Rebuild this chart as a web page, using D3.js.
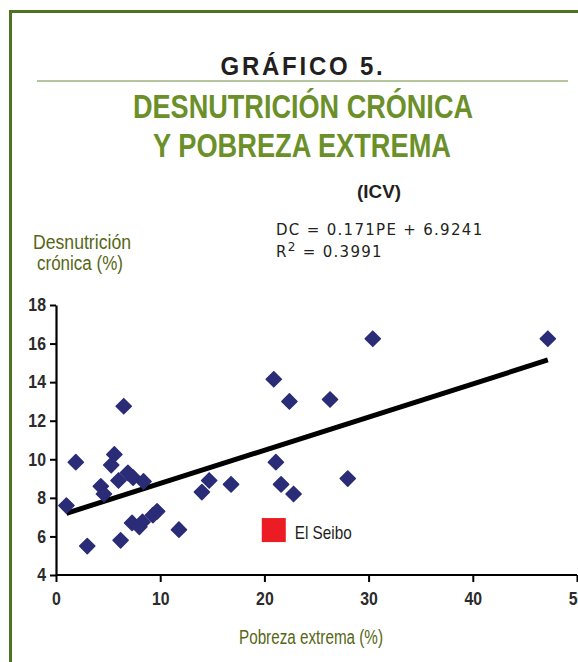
<!DOCTYPE html>
<html><head><meta charset="utf-8">
<script src="https://cdn.jsdelivr.net/npm/d3@7"></script>
<style>
body{margin:0;background:#fff;}
svg{display:block;}
.cond{font-family:"Liberation Sans","Arial",sans-serif;}
</style></head>
<body>
<svg id="chart" width="578" height="662"></svg>
<script>
// ---- data ----
const povertyPE = [1.0, 1.9, 3.0, 4.3, 4.6, 5.3, 5.6, 6.0, 6.2, 6.5, 6.9, 7.4, 7.3, 8.0, 8.3, 8.4, 9.3, 9.7, 11.8, 14.0, 14.7, 16.8, 20.9, 21.1, 21.6, 22.4, 22.8, 26.3, 28.0, 30.4, 47.2];
const malnutritionDC = [7.6, 9.85, 5.5, 8.6, 8.2, 9.7, 10.25, 8.9, 5.8, 12.75, 9.3, 9.05, 6.7, 6.5, 6.75, 8.85, 7.1, 7.3, 6.35, 8.3, 8.9, 8.7, 14.15, 9.85, 8.7, 13.0, 8.2, 13.1, 9.0, 16.25, 16.25];
const highlightName = ["El Seibo"];
const highlightPE = [20.9];
const highlightDC = [6.33];
const trendPE = [1.0, 47.2];
const trendDC = [7.2, 15.15];
const xTicks = [0, 10, 20, 30, 40, 50];
const yTicks = [4, 6, 8, 10, 12, 14, 16, 18];

const svg = d3.select("#chart");
const green = "#4e7224";
const olive = "#566716";
const titleGreen = "#6c9029";

function condText(g, txt, xx, yy, size, width, opts={}) {
  const t = g.append("text").attr("class","cond").attr("x",xx).attr("y",yy)
    .attr("font-size",size).attr("text-anchor",opts.anchor||"start")
    .attr("fill",opts.fill||"#231f20").text(txt);
  if (opts.bold) t.attr("font-weight","bold");
  if (opts.ls) t.attr("letter-spacing",opts.ls);
  if (width) t.attr("textLength",width).attr("lengthAdjust","spacingAndGlyphs");
  return t;
}

// frame
svg.append("path").attr("d", "M10.5,662 V11.5 H578").attr("fill","none").attr("stroke",green).attr("stroke-width",3);

// titles
condText(svg,"GRÁFICO 5.",303,75,26,165,{anchor:"middle",bold:true,ls:3});
svg.append("line").attr("x1",37).attr("x2",568).attr("y1",81).attr("y2",81).attr("stroke","#6b8a3a").attr("stroke-width",1);
condText(svg,"DESNUTRICIÓN CRÓNICA",303,118,34,340,{anchor:"middle",bold:true,fill:titleGreen});
condText(svg,"Y POBREZA EXTREMA",302,157,34,298,{anchor:"middle",bold:true,fill:titleGreen});

condText(svg,"(ICV)",379,198,19,44,{anchor:"middle",bold:true});
const eq = svg.append("g").attr("font-family","DejaVu Sans, sans-serif").attr("font-size",15).attr("fill","#231f20").attr("letter-spacing",1.3);
eq.append("text").attr("x",276).attr("y",235).text("DC = 0.171PE + 6.9241");
const r2 = eq.append("text").attr("x",276).attr("y",257);
r2.append("tspan").text("R");
r2.append("tspan").attr("dy",-6).attr("font-size",12).text("2");
r2.append("tspan").attr("dy",6).text(" = 0.3991");

// y axis label
condText(svg,"Desnutrición",82,249,20,98,{anchor:"middle",fill:olive});
condText(svg,"crónica (%)",80,270,20,86,{anchor:"middle",fill:olive});

// scales
const x = d3.scaleLinear().domain([0,50]).range([56,577]);
const y = d3.scaleLinear().domain([4,18]).range([575,305]);

const xAxis = svg.append("g").attr("transform","translate(0,575)")
  .call(d3.axisBottom(x).tickValues(xTicks).tickSize(7).tickSizeOuter(0).tickPadding(10));
const yAxis = svg.append("g").attr("transform","translate(56,0)")
  .call(d3.axisLeft(y).tickValues(yTicks).tickSize(6).tickSizeOuter(0).tickPadding(4));
[xAxis,yAxis].forEach(a=>{
  a.select(".domain").attr("stroke","#000").attr("stroke-width",2.2);
  a.selectAll(".tick line").attr("stroke","#000").attr("stroke-width",2);
  a.selectAll(".tick text").attr("class","cond").attr("font-size",18).attr("font-weight","bold").attr("fill","#2b2b2b")
    .each(function(){
      const w=this.getComputedTextLength()*0.88;
      d3.select(this).attr("textLength",w).attr("lengthAdjust","spacingAndGlyphs");
    });
});
xAxis.select(".domain").attr("d","M56,0H577");

// trend line
svg.append("line")
  .attr("x1",x(trendPE[0])).attr("y1",y(trendDC[0]))
  .attr("x2",x(trendPE[1])).attr("y2",y(trendDC[1]))
  .attr("stroke","#000").attr("stroke-width",5);

// points
const sym = d3.symbol().type(d3.symbolSquare).size(115);
svg.append("g").selectAll("path").data(povertyPE).join("path")
  .attr("d",sym)
  .attr("transform",(d,i)=>`translate(${x(d)},${y(malnutritionDC[i])}) rotate(45)`)
  .attr("fill","#2b2c77").attr("stroke","#2b2c77").attr("stroke-width",1.5).attr("stroke-linejoin","round");

// highlight
highlightPE.forEach((d,i)=>{
  svg.append("rect").attr("x",x(d)-12).attr("y",y(highlightDC[i])-12).attr("width",24).attr("height",24).attr("fill","#ec1c24");
  condText(svg,highlightName[i],x(d)+21,y(highlightDC[i])+9,19,57,{});
});

// x axis title
condText(svg,"Pobreza extrema (%)",311,644,20,144,{anchor:"middle",fill:olive});
</script>
</body></html>
